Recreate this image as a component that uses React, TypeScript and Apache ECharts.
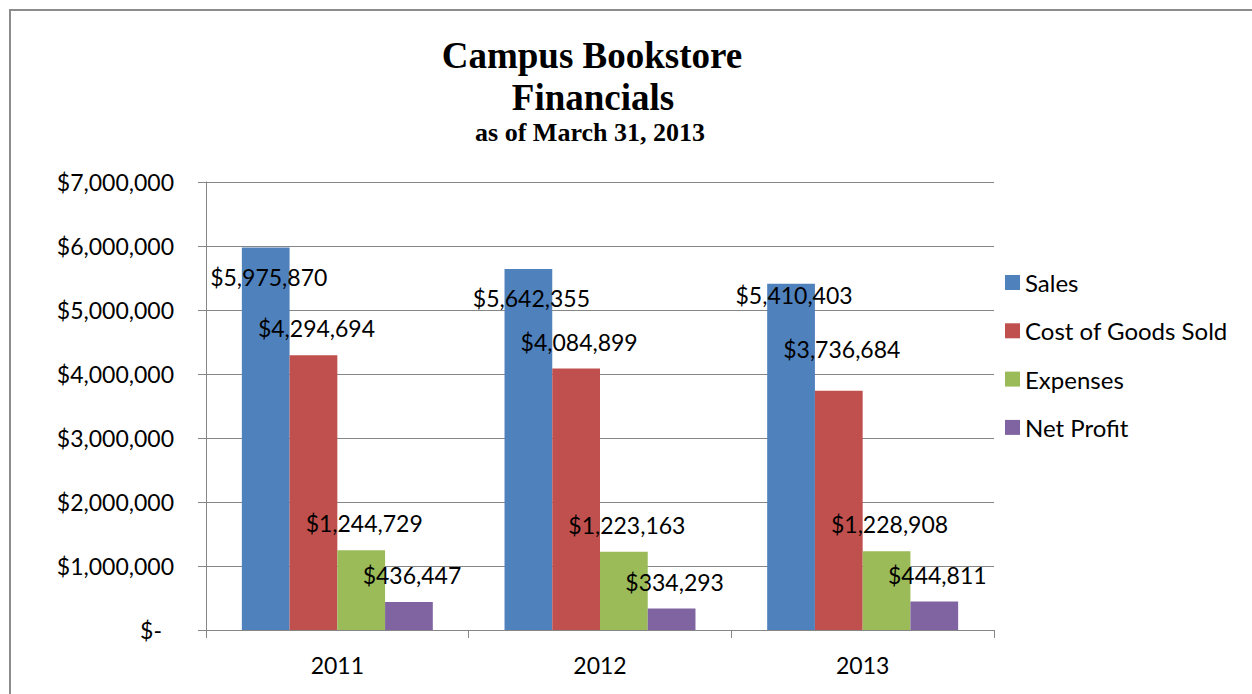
import React, { useEffect, useRef } from "react";
import * as echarts from "echarts";

const categories = ["2011", "2012", "2013"];
const seriesNames = ["Sales", "Cost of Goods Sold", "Expenses", "Net Profit"];
const sales = [5975870, 5642355, 5410403];
const costOfGoods = [4294694, 4084899, 3736684];
const expenses = [1244729, 1223163, 1228908];
const netProfit = [436447, 334293, 444811];
const yMin = 0;
const yMax = 7000000;
const yStep = 1000000;

const titleLines = ["Campus Bookstore", "Financials"];
const subtitle = "as of March 31, 2013";

const colors = ["#4F81BD", "#C0504D", "#9BBB59", "#8064A2"];
const FONT = "Lato, 'Noto Sans', sans-serif";
const SERIF = "'Liberation Serif', 'Times New Roman', serif";
const FS = 23;
const LEGEND_FS = 24;

// label placement styling (per series, per category vertical nudge)
const labelNudge = [
  [0, 0, -18],
  [0, 0, -15],
  [0, 0, 0],
  [0, 0, 0],
];

const money = (v: number) => "$" + Math.round(v).toLocaleString("en-US");

export default function App() {
  const ref = useRef<HTMLDivElement>(null);

  useEffect(() => {
    if (!ref.current) return;
    const chart = echarts.init(ref.current, undefined, { renderer: "svg" });
    const allValues = [sales, costOfGoods, expenses, netProfit];

    const series = allValues.map((vals, si) => ({
      name: seriesNames[si],
      type: "bar",
      barGap: "0%",
      barCategoryGap: "27.3%",
      itemStyle: { color: colors[si] },
      label: {
        show: true,
        position: si === 0 ? "insideTop" : "top",
        distance: si === 0 ? 17.5 : 15.5,
        color: "#000",
        fontFamily: FONT,
        fontSize: FS,
        formatter: (p: any) => money(p.value),
      },
      data: vals.map((v, ci) => ({
        value: v,
        label: { offset: [3, labelNudge[si][ci]] },
      })),
    }));

    chart.setOption({
      animation: false,
      backgroundColor: "#ffffff",
      grid: { left: 206, right: 258, top: 182, bottom: 64, containLabel: false },
      legend: {
        orient: "vertical",
        left: 1000,
        top: 265.5,
        itemWidth: 15,
        itemHeight: 15,
        itemGap: 24.3,
        icon: "rect",
        textStyle: { fontFamily: FONT, fontSize: LEGEND_FS, color: "#000", lineHeight: 24 },
        data: seriesNames,
      },
      xAxis: {
        type: "category",
        data: categories,
        axisLine: { lineStyle: { color: "#868686", width: 1 } },
        axisTick: { show: true, length: 8, lineStyle: { color: "#868686" } },
        axisLabel: { fontFamily: FONT, fontSize: FS, color: "#000", margin: 23 },
      },
      yAxis: {
        type: "value",
        min: yMin,
        max: yMax,
        interval: yStep,
        axisLine: { show: true, lineStyle: { color: "#868686", width: 1 } },
        axisTick: { show: true, length: 8, lineStyle: { color: "#868686" } },
        splitLine: { show: true, lineStyle: { color: "#868686", width: 1 } },
        axisLabel: {
          fontFamily: FONT,
          fontSize: FS,
          color: "#000",
          margin: 32,
          formatter: (v: number) => (v === 0 ? "{z|$-}" : money(v)),
          rich: {
            z: { fontFamily: FONT, fontSize: FS, color: "#000", padding: [0, 12, 0, 0] },
          },
        },
      },
      graphic: [
        {
          type: "rect",
          shape: { x: 10, y: 10, width: 1300, height: 800 },
          style: { fill: "none", stroke: "#8c8c8c", lineWidth: 2 },
          silent: true,
        },
        {
          type: "text",
          x: 592,
          y: 55.5,
          style: {
            text: titleLines[0],
            font: `bold 37px ${SERIF}`,
            fill: "#000",
            align: "center",
            verticalAlign: "middle",
          },
        },
        {
          type: "text",
          x: 593,
          y: 97.5,
          style: {
            text: titleLines[1],
            font: `bold 37px ${SERIF}`,
            fill: "#000",
            align: "center",
            verticalAlign: "middle",
          },
        },
        {
          type: "text",
          x: 590,
          y: 132.5,
          style: {
            text: subtitle,
            font: `bold 26px ${SERIF}`,
            fill: "#000",
            align: "center",
            verticalAlign: "middle",
          },
        },
      ],
      series,
    });

    return () => chart.dispose();
  }, []);

  return (
    <div
      ref={ref}
      style={{ position: "fixed", left: 0, top: 0, width: 1252, height: 694, background: "#fff" }}
    />
  );
}
